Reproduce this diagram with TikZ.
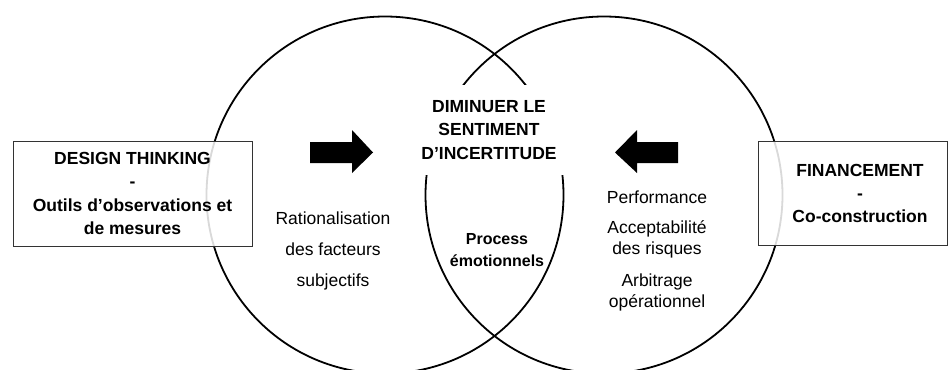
\documentclass[tikz,border=0pt]{standalone}
\usepackage{fontspec}
\setmainfont{Liberation Sans}
\begin{document}
\begin{tikzpicture}[x=1pt,y=-1pt,
  circ/.style={circle, draw=black, line width=1.8pt, minimum size=357pt, inner sep=0pt},
  box/.style={draw=black!80, line width=1pt, fill=white, fill opacity=0.85, text opacity=1, inner sep=0pt},
  boldtxt/.style={font=\fontsize{17.5}{23.3}\selectfont\bfseries, align=center, inner sep=0pt},
  regtxt/.style={font=\fontsize{17.5}{21}\selectfont, align=center, inner sep=0pt},
  bigarrow/.style={fill=black}]
\useasboundingbox (0,0) rectangle (949,369);
\clip (0,0) rectangle (949,369);
% circles
\node[circ] (left) at (385,195) {};
\node[circ] (right) at (604,195) {};
% boxes
\node[box, minimum width=239pt, minimum height=105pt, font=\fontsize{17.5}{23.3}\selectfont\bfseries, align=center] (dt) at (132.5,193.5)
  {DESIGN THINKING\\-\\Outils d’observations et\\de mesures};
\node[box, minimum width=189pt, minimum height=104pt] (fin) at (852.5,193) {};
\node[boldtxt] (fintxt) at (860,193.5) {FINANCEMENT\\-\\Co-construction};
% title
\node[boldtxt, fill=white, minimum width=160pt, minimum height=90pt, font=\fontsize{17.5}{23.5}\selectfont\bfseries] (dim) at (489,130)
  {DIMINUER LE\\SENTIMENT\\D’INCERTITUDE};
% arrows
\fill[bigarrow] (310,142) -- (352,142) -- (352,130) -- (373,152.5) -- (352,173) -- (352,163) -- (310,163) -- cycle;
\fill[bigarrow] (678,142) -- (637,142) -- (637,130) -- (615,152.5) -- (637,173) -- (637,163) -- (678,163) -- cycle;
% texts
\node[regtxt, font=\fontsize{17.5}{31}\selectfont] (rat) at (333,251) {Rationalisation\\des facteurs\\subjectifs};
\node[boldtxt, font=\fontsize{16}{22}\selectfont\bfseries] (proc) at (497,250) {Process\\émotionnels};
\node[regtxt] (perf) at (657,197) {Performance};
\node[regtxt] (acc) at (657,239.5) {Acceptabilité\\des risques};
\node[regtxt] (arb) at (657,292.5) {Arbitrage\\opérationnel};
\end{tikzpicture}
\end{document}
